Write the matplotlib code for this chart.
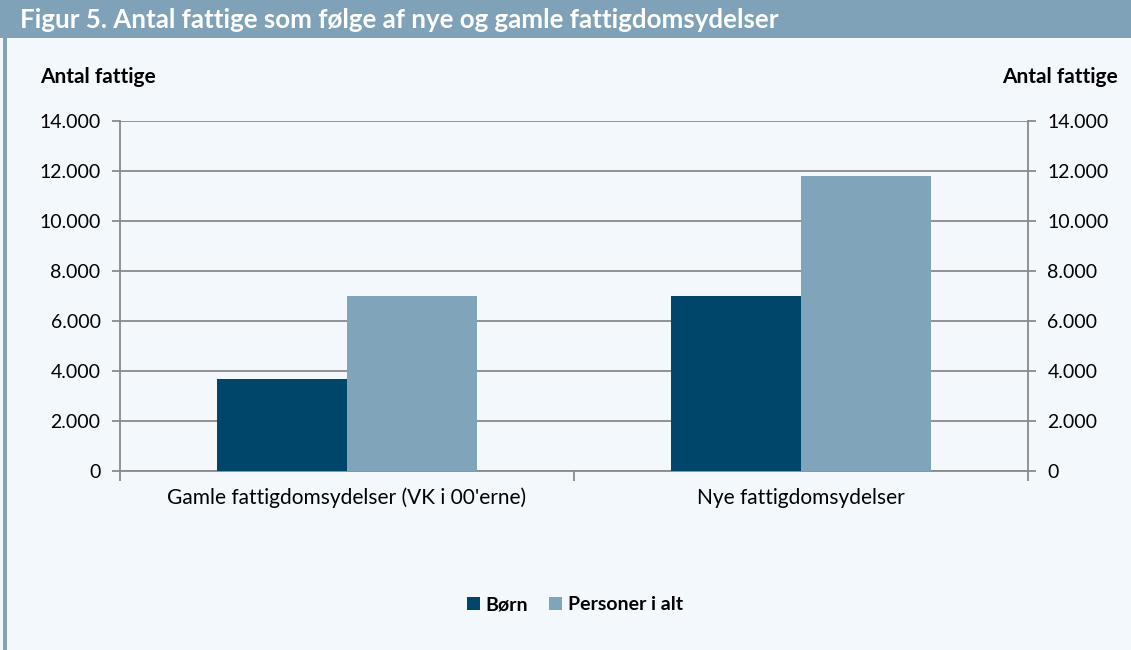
import numpy as np
import matplotlib
matplotlib.use('Agg')
import matplotlib.pyplot as plt
from matplotlib.patches import Rectangle
from matplotlib.ticker import FuncFormatter

plt.rcParams['font.family'] = ['Lato', 'DejaVu Sans']

# Data
categories = ["Gamle fattigdomsydelser (VK i 00'erne)", "Nye fattigdomsydelser"]
boern = [3700, 7000]
personer = [7000, 11800]
series_names = ["Børn", "Personer i alt"]

dark = '#00466b'
light = '#80a4b9'
frame = '#7fa2b8'
bg = '#f3f8fd'
grey = '#8a8a8a'

fig = plt.figure(figsize=(11.31, 6.5), dpi=100)
fig.patch.set_facecolor(bg)

# title bar and left border strip
fig.patches.append(Rectangle((0, 1 - 38 / 650), 1, 38 / 650, transform=fig.transFigure,
                             facecolor=frame, edgecolor='none', zorder=0))
fig.patches.append(Rectangle((3 / 1131, 0), 4 / 1131, 1, transform=fig.transFigure,
                             facecolor=frame, edgecolor='none', zorder=0))
fig.text(20 / 1131, 1 - 20 / 650, 'Figur 5. Antal fattige som følge af nye og gamle fattigdomsydelser',
         color='white', fontsize=18.6, fontweight='bold', va='center', ha='left')

ax = fig.add_axes([120 / 1131, 179 / 650, 908 / 1131, 350 / 650])
ax.set_facecolor(bg)

x = np.arange(len(categories))
w = 0.286
ax.bar(x - w / 2, boern, w, color=dark, label=series_names[0], zorder=3)
ax.bar(x + w / 2, personer, w, color=light, label=series_names[1], zorder=3)

ax.set_xlim(-0.5, 1.5)
ax.set_ylim(0, 14000)
ax.set_yticks(np.arange(0, 14001, 2000))
ax.yaxis.set_major_formatter(FuncFormatter(lambda v, p: f'{int(v):,}'.replace(',', '.')))
ax.grid(axis='y', color=grey, linewidth=1.3, zorder=0)
ax.tick_params(axis='y', which='both', left=True, right=True, labelleft=True, labelright=True,
               length=6, width=1.3, color=grey, pad=8, labelsize=14)

ax.set_xticks(x)
ax.set_xticklabels(categories)
ax.set_xticks([-0.5, 0.5, 1.5], minor=True)
ax.tick_params(axis='x', which='major', length=0, pad=12, labelsize=15)
ax.tick_params(axis='x', which='minor', length=7, width=1.3, color=grey)

for s in ['left', 'right', 'bottom']:
    ax.spines[s].set_color(grey)
    ax.spines[s].set_linewidth(1.3)
ax.spines['top'].set_visible(False)

fig.text(40 / 1131, 1 - 77 / 650, 'Antal fattige', fontsize=15, fontweight='bold', va='center', ha='left')
fig.text(1118 / 1131, 1 - 77 / 650, 'Antal fattige', fontsize=15, fontweight='bold', va='center', ha='right')

fig.legend(loc='center', bbox_to_anchor=(575 / 1131, 1 - 605 / 650), ncol=2, frameon=False,
           prop={'weight': 'bold', 'size': 14}, handlelength=0.65, handleheight=0.65,
           handletextpad=0.3, columnspacing=1.1)

fig.savefig('out.png', dpi=100, facecolor=bg)
